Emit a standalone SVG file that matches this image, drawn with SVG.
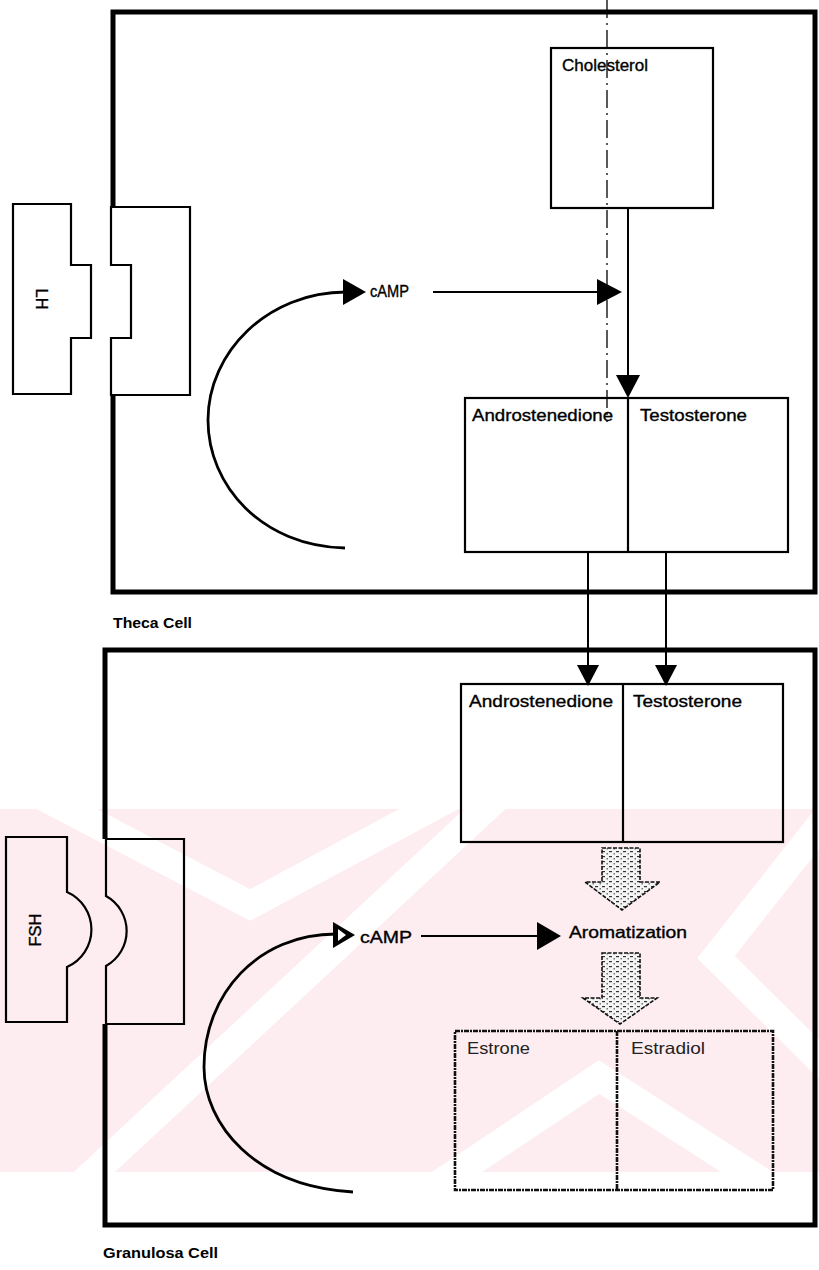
<svg xmlns="http://www.w3.org/2000/svg" width="819" height="1270" viewBox="0 0 819 1270">
  <defs>
    <style>
      .wall { fill: none; stroke: #000; stroke-width: 5; stroke-linejoin: miter; }
      .box { fill: none; stroke: #000; stroke-width: 2.2; }
      .rough { fill: none; stroke: #111; stroke-width: 2.6; stroke-dasharray: 5 1 2 1; }
      .ln { fill: none; stroke: #000; stroke-width: 2; }
      .arc { fill: none; stroke: #000; stroke-width: 2.8; }
      .head { fill: #000; }
      .lbl { font-family: "Liberation Sans", Arial, sans-serif; font-size: 16.5px; fill: #000; stroke: #000; stroke-width: 0.35; }
      .lt { font-family: "Liberation Sans", Arial, sans-serif; font-size: 16.5px; fill: #222; }
      .cell { font-family: "Liberation Sans", Arial, sans-serif; font-size: 14px; font-weight: bold; fill: #000; }
      .hollow { fill: url(#stipple); stroke: #111; stroke-width: 1.6; stroke-dasharray: 4 1.5; }
      .wm { fill: none; stroke: #fff; stroke-width: 28; }
    </style>
    <pattern id="stipple" width="7" height="5" patternUnits="userSpaceOnUse">
      <rect width="7" height="5" fill="#f4f4f4"/>
      <rect x="0" y="1" width="3" height="1.2" fill="#333"/>
      <rect x="4.5" y="3.2" width="1.5" height="1.2" fill="#555"/>
    </pattern>
    <clipPath id="band">
      <rect x="0" y="809" width="819" height="363"/>
    </clipPath>
  </defs>

  <rect width="819" height="1270" fill="#fff"/>

  <!-- faint watermark -->
  <g id="watermark" clip-path="url(#band)">
    <rect x="0" y="809" width="819" height="363" fill="#fdedf0"/>
    <path class="wm" d="M500,795 L75,1190"/>
    <path class="wm" d="M40,795 L250,905 L455,795"/>
    <path class="wm" d="M840,800 L716,957 L840,1080"/>
    <path class="wm" d="M430,1190 L599,1077 L775,1190"/>
  </g>

  <!-- Theca cell -->
  <g id="theca-cell">
    <path class="wall" d="M113,207 L113,12 L815,12 L815,592 L113,592 L113,395"/>
    <text class="cell" x="113" y="628" textLength="79" lengthAdjust="spacingAndGlyphs">Theca Cell</text>
  </g>

  <g id="lh">
    <path class="box" d="M13,204 H71 V265 H91 V338 H71 V394 H13 Z"/>
    <text class="lbl" transform="translate(36,299) rotate(90)" text-anchor="middle" font-size="13">LH</text>
  </g>
  <g id="lh-receptor">
    <path class="box" d="M111,207 H190 V395 H111 V338 H131 V265 H111 Z"/>
  </g>

  <g id="cholesterol">
    <rect class="box" x="551" y="48" width="162" height="160"/>
    <text class="lbl" x="562" y="71" textLength="86" lengthAdjust="spacingAndGlyphs">Cholesterol</text>
  </g>

  <g id="theca-androgens">
    <rect class="box" x="465" y="398" width="323" height="154"/>
    <line class="box" x1="628" y1="398" x2="628" y2="552"/>
    <text class="lbl" x="472" y="421" textLength="141" lengthAdjust="spacingAndGlyphs">Androstenedione</text>
    <text class="lbl" x="640" y="421" textLength="107" lengthAdjust="spacingAndGlyphs">Testosterone</text>
  </g>

  <g id="theca-camp">
    <text class="lbl" x="370" y="297" textLength="39" lengthAdjust="spacingAndGlyphs">cAMP</text>
  </g>

  <!-- Granulosa cell -->
  <g id="granulosa-cell">
    <path class="wall" d="M105,839 L105,650 L815,650 L815,1225 L105,1225 L105,1024"/>
    <text class="cell" x="103" y="1258" textLength="115" lengthAdjust="spacingAndGlyphs">Granulosa Cell</text>
  </g>

  <g id="fsh">
    <path class="box" d="M6,837 H67 V892 A41 41 0 0 1 67,967 V1022 H6 Z"/>
    <text class="lbl" transform="translate(41,930) rotate(-90)" text-anchor="middle" font-size="13">FSH</text>
  </g>
  <g id="fsh-receptor">
    <path class="box" d="M106,839 H184 V1024 H106 V966 A40 40 0 0 0 106,896 Z"/>
  </g>

  <g id="granulosa-androgens">
    <rect class="box" x="461" y="684" width="322" height="158"/>
    <line class="box" x1="623" y1="684" x2="623" y2="842"/>
    <text class="lbl" x="469" y="707" textLength="144" lengthAdjust="spacingAndGlyphs">Androstenedione</text>
    <text class="lbl" x="633" y="707" textLength="109" lengthAdjust="spacingAndGlyphs">Testosterone</text>
  </g>

  <g id="granulosa-camp">
    <text class="lbl" x="360" y="943" textLength="52" lengthAdjust="spacingAndGlyphs">cAMP</text>
  </g>

  <g id="aromatization">
    <text class="lbl" x="569" y="938" textLength="118" lengthAdjust="spacingAndGlyphs">Aromatization</text>
  </g>

  <g id="estrogens">
    <rect class="rough" x="455" y="1031" width="318" height="159"/>
    <line class="rough" x1="617" y1="1031" x2="617" y2="1190"/>
    <text class="lt" x="467" y="1054" textLength="63" lengthAdjust="spacingAndGlyphs">Estrone</text>
    <text class="lt" x="631" y="1054" textLength="74" lengthAdjust="spacingAndGlyphs">Estradiol</text>
  </g>

  <!-- connectors -->
  <g id="connectors">
    <line x1="607" y1="0" x2="607" y2="422" stroke="#000" stroke-width="1.3" stroke-dasharray="18 5 2 5"/>

    <path class="arc" d="M345,548 C262,546 208,486 208,420 C208,352 268,292 346,292"/>
    <polygon class="head" points="343,279 366,292 343,305"/>

    <line class="ln" x1="433" y1="292" x2="600" y2="292" stroke-width="2.4"/>
    <polygon class="head" points="597,279 622,292 597,305"/>

    <line class="ln" x1="628" y1="208" x2="628" y2="378"/>
    <polygon class="head" points="616,375 640,375 628,398"/>

    <line class="ln" x1="588" y1="552" x2="588" y2="668"/>
    <polygon class="head" points="577,665 599,665 588,686"/>
    <line class="ln" x1="666" y1="552" x2="666" y2="668"/>
    <polygon class="head" points="655,665 677,665 666,686"/>

    <path class="arc" d="M353,1192 C255,1186 204,1125 204,1067 C204,994 258,934 336,934"/>
    <polygon class="head" points="333,922 355,935 333,948"/>
    <polygon points="338,929 346,935 338,941" fill="#fff"/>

    <line class="ln" x1="421" y1="936" x2="540" y2="936" stroke-width="2.4"/>
    <polygon class="head" points="537,922 561,936 537,950"/>

    <polygon class="hollow" points="602,848 640,848 640,882 660,882 622,910 585,882 602,882"/>
    <polygon class="hollow" points="602,953 640,953 640,998 657,998 620,1024 583,998 602,998"/>
  </g>
</svg>
